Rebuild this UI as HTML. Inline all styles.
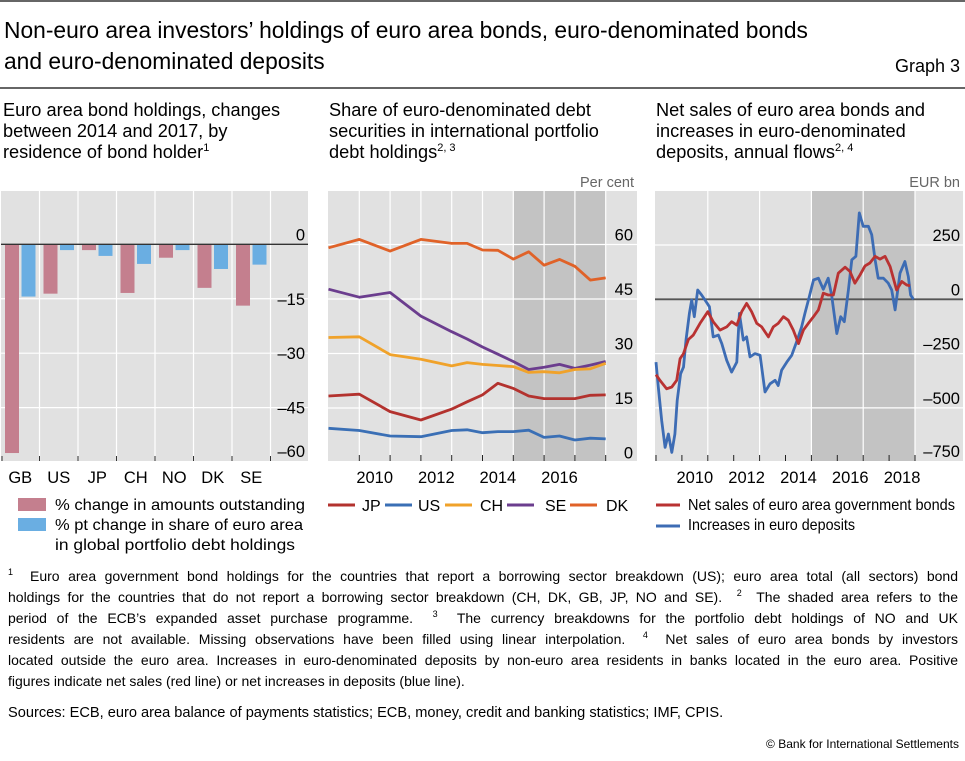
<!DOCTYPE html>
<html><head><meta charset="utf-8">
<style>
body{margin:0;background:#fff;font-family:"Liberation Sans",sans-serif;color:#000}
#root{position:relative;width:965px;height:761px;overflow:hidden}
svg text{font-family:"Liberation Sans",sans-serif}
.fn{position:absolute;left:8px;width:950px;font-size:14px;line-height:21px}
.fn div{text-align:justify;text-align-last:justify;white-space:nowrap}
.fn div.last{text-align-last:left}
.fn sup{font-size:9px;vertical-align:6px;line-height:0}
</style></head><body>
<div id="root">
<svg id="s" width="965" height="761" style="position:absolute;left:0;top:0">
<line x1="0" y1="1" x2="965" y2="1" stroke="#333" stroke-width="1.5"/>
<text x="4" y="38" font-size="22.8">Non-euro area investors’ holdings of euro area bonds, euro-denominated bonds</text>
<text x="4" y="69" font-size="22.8">and euro-denominated deposits</text>
<text x="960" y="72" font-size="18" text-anchor="end">Graph 3</text>
<line x1="0" y1="88" x2="965" y2="88" stroke="#333" stroke-width="1.5"/>
<g font-size="18.2">
<text x="3" y="116">Euro area bond holdings, changes</text>
<text x="3" y="137">between 2014 and 2017, by</text>
<text x="3" y="158">residence of bond holder<tspan font-size="11" dy="-7">1</tspan></text></g>
<g font-size="18.2">
<text x="329" y="116">Share of euro-denominated debt</text>
<text x="329" y="137">securities in international portfolio</text>
<text x="329" y="158">debt holdings<tspan font-size="11" dy="-7">2, 3</tspan></text></g>
<g font-size="18.2">
<text x="656" y="116">Net sales of euro area bonds and</text>
<text x="656" y="137">increases in euro-denominated</text>
<text x="656" y="158">deposits, annual flows<tspan font-size="11" dy="-7">2, 4</tspan></text></g>
<text x="634" y="187" font-size="14.5" fill="#666" text-anchor="end">Per cent</text>
<text x="960" y="187" font-size="14.5" fill="#666" text-anchor="end">EUR bn</text>
<g id="p1"></g><g id="p2"></g><g id="p3"></g>
<g font-size="16">
<rect x="18" y="498" width="28" height="13" fill="#c47f8e"/>
<text x="55" y="510" textLength="250" lengthAdjust="spacingAndGlyphs">% change in amounts outstanding</text>
<rect x="18" y="518" width="28" height="13" fill="#6aaee2"/>
<text x="55" y="530" textLength="248" lengthAdjust="spacingAndGlyphs">% pt change in share of euro area</text>
<text x="55" y="550" textLength="240" lengthAdjust="spacingAndGlyphs">in global portfolio debt holdings</text></g>
<g id="leg2" font-size="16"></g>
<g font-size="16">
<line x1="656" y1="505" x2="680" y2="505" stroke="#b93232" stroke-width="3"/>
<text x="688" y="510" textLength="267" lengthAdjust="spacingAndGlyphs">Net sales of euro area government bonds</text>
<line x1="656" y1="526" x2="680" y2="526" stroke="#3d6cb4" stroke-width="3"/>
<text x="688" y="530" textLength="167" lengthAdjust="spacingAndGlyphs">Increases in euro deposits</text></g>
</svg>
<div class="fn" style="top:566px">
<div><sup>1</sup>&nbsp; Euro area government bond holdings for the countries that report a borrowing sector breakdown (US); euro area total (all sectors) bond</div>
<div>holdings for the countries that do not report a borrowing sector breakdown (CH, DK, GB, JP, NO and SE).&nbsp; <sup>2</sup>&nbsp; The shaded area refers to the</div>
<div>period of the ECB’s expanded asset purchase programme.&nbsp; <sup>3</sup>&nbsp; The currency breakdowns for the portfolio debt holdings of NO and UK</div>
<div>residents are not available. Missing observations have been filled using linear interpolation.&nbsp; <sup>4</sup>&nbsp; Net sales of euro area bonds by investors</div>
<div>located outside the euro area. Increases in euro-denominated deposits by non-euro area residents in banks located in the euro area. Positive</div>
<div class="last">figures indicate net sales (red line) or net increases in deposits (blue line).</div>
</div>
<div class="fn" style="top:703px;font-size:14.6px"><div class="last">Sources: ECB, euro area balance of payments statistics; ECB, money, credit and banking statistics; IMF, CPIS.</div></div>
<div style="position:absolute;right:6px;top:737px;font-size:12px">© Bank for International Settlements</div>
</div>
<script>
// Panel 1 data
const p1Categories=["GB","US","JP","CH","NO","DK","SE"];
const p1AmountChange=[-57.5,-13.6,-1.6,-13.4,-3.7,-12,-16.9];
const p1ShareChange=[-14.4,-1.6,-3.2,-5.4,-1.6,-6.8,-5.6];
const p1Ticks=[0,-15,-30,-45,-60];
// Panel 2 data
const p2Dates=[2009,2010,2011,2012,2013,2013.5,2014,2014.5,2015,2015.5,2016,2016.5,2017,2017.5,2018];
const p2Names=["JP","US","CH","SE","DK"];
const p2JP=[18.3,18.8,14.0,11.7,14.7,16.7,18.6,21.8,20.4,18.3,17.6,17.6,17.6,18.5,18.6];
const p2US=[9.4,8.8,7.3,7.1,8.8,9.0,8.2,8.5,8.5,8.9,6.9,7.3,6.2,6.7,6.5];
const p2CH=[34.4,34.6,29.7,28.4,26.6,27.5,27.0,26.7,26.4,24.8,25.0,24.7,25.6,25.8,27.3];
const p2SE=[47.7,45.5,46.8,40.3,36.0,34.0,31.8,29.8,27.8,25.6,26.2,27.0,25.9,26.8,27.8];
const p2DK=[59.1,61.4,58.2,61.4,60.3,60.3,58.5,58.4,56.0,58.0,54.3,55.9,54.0,50.2,50.8];
const p2Ticks=[0,15,30,45,60];
const p2YearLabels=[2010,2012,2014,2016];
// Panel 3 data
const p3RedDates=[2009,2009.15,2009.41,2009.61,2009.8,2009.93,2010.06,2010.25,2010.44,2010.7,2011,2011.21,2011.47,2011.73,2011.92,2012.12,2012.31,2012.5,2012.69,2012.89,2013.08,2013.34,2013.53,2013.72,2013.92,2014.11,2014.3,2014.5,2014.69,2014.88,2015.08,2015.27,2015.46,2015.65,2015.85,2016.04,2016.3,2016.49,2016.68,2016.88,2017.07,2017.26,2017.46,2017.65,2017.84,2018.04,2018.29,2018.49,2018.68,2018.81];
const p3RedValues=[-347,-373,-412,-404,-373,-273,-250,-185,-165,-111,-57,-103,-142,-127,-103,-119,-57,-19,-57,-111,-127,-173,-127,-111,-80,-96,-142,-204,-142,-111,-80,-49,28,20,20,120,148,128,74,113,154,167,198,185,198,151,43,82,66,62];
const p3BlueDates=[2009,2009.09,2009.22,2009.35,2009.48,2009.61,2009.73,2009.82,2009.95,2010.06,2010.16,2010.29,2010.38,2010.48,2010.61,2010.76,2010.89,2011.06,2011.21,2011.41,2011.54,2011.73,2011.92,2012.12,2012.22,2012.37,2012.5,2012.63,2012.82,2013.02,2013.21,2013.4,2013.6,2013.72,2013.85,2014.05,2014.24,2014.43,2014.62,2014.75,2014.92,2015.08,2015.27,2015.46,2015.65,2015.78,2015.98,2016.13,2016.27,2016.43,2016.56,2016.72,2016.85,2017,2017.2,2017.33,2017.46,2017.58,2017.78,2017.97,2018.1,2018.23,2018.42,2018.61,2018.74,2018.83,2018.94];
const p3BlueValues=[-289,-404,-559,-682,-620,-705,-620,-466,-343,-312,-188,-65,-3,-80,43,20,-3,-34,-173,-165,-204,-281,-335,-289,-65,-188,-173,-265,-250,-258,-427,-389,-373,-397,-327,-289,-258,-196,-127,-65,12,89,97,46,97,20,-158,-80,-103,43,182,198,398,336,336,298,182,97,97,74,43,-49,120,174,105,20,0];
const p3Ticks=[250,0,-250,-500,-750];
const p3YearLabels=[2010,2012,2014,2016,2018];

const NS="http://www.w3.org/2000/svg";
function mk(parent,tag,attrs,text){const e=document.createElementNS(NS,tag);for(const k in attrs)e.setAttribute(k,attrs[k]);if(text!==undefined)e.textContent=text;parent.appendChild(e);return e;}

// ---- Panel 1
(function(){
const g=document.getElementById('p1');
const L=1,R=308,T=191,B=461,slot=38.5;
const y=v=>244.3-v*3.63;
const bg=mk(g,'rect',{x:L,y:T,width:R-L,height:B-T,fill:'#e1e1e1'});


for(let k=1;k<=p1Categories.length;k++){mk(g,'line',{x1:L+slot*k,y1:T,x2:L+slot*k,y2:B,stroke:'#fff','stroke-width':1.2});}
p1Ticks.forEach(v=>{
 if(v!==0&&v!==-60)mk(g,'line',{x1:L,y1:y(v),x2:R,y2:y(v),stroke:'#fff','stroke-width':1.2});
 const t=mk(g,'text',{x:305,y:(v===0?y(v)-4:Math.min(y(v)+6,457)),'font-size':16.5,'text-anchor':'end'},v===0?'0':'–'+Math.abs(v));
 
 
});
p1Categories.forEach((c,i)=>{
 const x0=L+slot*i;
 const a=p1AmountChange[i],b=p1ShareChange[i];
 const r1=mk(g,'rect',{x:x0+4,y:y(0),width:14,height:y(a)-y(0),fill:'#c47f8e'});
 
 
 const r2=mk(g,'rect',{x:x0+20.5,y:y(0),width:14,height:y(b)-y(0),fill:'#6aaee2'});
 
 
 const t=mk(g,'text',{x:x0+slot/2,y:483,'font-size':16.5,'text-anchor':'middle'},c);
 
 
});
for(let k=0;k<=p1Categories.length;k++){mk(g,'line',{x1:L+slot*k+(k==0?1:0),y1:B-5,x2:L+slot*k+(k==0?1:0),y2:B,stroke:'#333','stroke-width':1});}
mk(g,'line',{x1:L,y1:y(0),x2:R,y2:y(0),stroke:'#333','stroke-width':1.3});
})();

// ---- Panel 2
(function(){
const g=document.getElementById('p2');
const L=328,R=637,T=191,B=461;
const x=t=>328.5+(t-2009)*30.8, y=v=>462.5-v*3.633;
const bg=mk(g,'rect',{x:L,y:T,width:R-L,height:B-T,fill:'#e1e1e1'});


const sh=mk(g,'rect',{x:x(2015),y:T,width:x(2018)-x(2015),height:B-T,fill:'#c3c3c3'});


for(let yr=2010;yr<=2018;yr++){mk(g,'line',{x1:x(yr),y1:T,x2:x(yr),y2:B,stroke:'#fff','stroke-width':1.2});}
p2Ticks.forEach(v=>{
 if(v>0)mk(g,'line',{x1:L,y1:y(v),x2:R,y2:y(v),stroke:'#fff','stroke-width':1.2});
 const t=mk(g,'text',{x:633,y:y(v)-4,'font-size':16.5,'text-anchor':'end'},String(v));
 
 
});
for(let yr=2010;yr<=2018;yr++){mk(g,'line',{x1:x(yr),y1:B-6,x2:x(yr),y2:B,stroke:'#222','stroke-width':1});}
p2YearLabels.forEach(yr=>{const t=mk(g,'text',{x:x(yr+0.5),y:483,'font-size':16.5,'text-anchor':'middle'},String(yr));
 
 });
const series=[p2JP,p2US,p2CH,p2SE,p2DK];
const cols=['#b3322e','#3a6fb5','#f0a22a','#6b3d8e','#e06228'];
[4,3,2,0,1].forEach(i=>{
 const d=series[i].map((v,j)=>(j?'L':'M')+x(p2Dates[j]).toFixed(1)+','+y(v).toFixed(1)).join('');
 const p=mk(g,'path',{d:d,fill:'none',stroke:cols[i],'stroke-width':2.8,'stroke-linejoin':'round'});
 
 
});
const lg=document.getElementById('leg2');
const lx=[328,385,445,507,570];
const tx=[362,418,480,545,606];
p2Names.forEach((n,i)=>{
 mk(lg,'line',{x1:lx[i],y1:505,x2:lx[i]+27,y2:505,stroke:cols[i],'stroke-width':3});
 const t=mk(lg,'text',{x:tx[i],y:511},n);
 
 
});
})();

// ---- Panel 3
(function(){
const g=document.getElementById('p3');
const L=655,R=963,T=191,B=461;
const x=t=>656+(t-2009)*25.9, y=v=>299.3-v*0.2172;
const bg=mk(g,'rect',{x:L,y:T,width:R-L,height:B-T,fill:'#e1e1e1'});


const sh=mk(g,'rect',{x:x(2015),y:T,width:x(2019)-x(2015),height:B-T,fill:'#c3c3c3'});


[2011,2013,2015,2017,2019].forEach(yr=>mk(g,'line',{x1:x(yr),y1:T,x2:x(yr),y2:B,stroke:'#fff','stroke-width':1.2}));
p3Ticks.forEach(v=>{
 if(v!==0&&v!==-750)mk(g,'line',{x1:L,y1:y(v),x2:R,y2:y(v),stroke:'#fff','stroke-width':1.2});
 const t=mk(g,'text',{x:960,y:v===-750?457:y(v)-4,'font-size':16.5,'text-anchor':'end'},v<0?'–'+Math.abs(v):String(v));
 
 
});
for(let yr=2009;yr<=2019;yr++){mk(g,'line',{x1:x(yr),y1:B-6,x2:x(yr),y2:B,stroke:'#222','stroke-width':1});}
p3YearLabels.forEach(yr=>{const t=mk(g,'text',{x:x(yr+0.5),y:483,'font-size':16.5,'text-anchor':'middle'},String(yr));
 
 });
mk(g,'line',{x1:L,y1:y(0),x2:R,y2:y(0),stroke:'#555','stroke-width':1.8});
const b=p3BlueValues.map((v,j)=>(j?'L':'M')+x(p3BlueDates[j]).toFixed(1)+','+y(v).toFixed(1)).join('');
const pb=mk(g,'path',{d:b,fill:'none',stroke:'#3d6cb4','stroke-width':2.8,'stroke-linejoin':'round'});


const r=p3RedValues.map((v,j)=>(j?'L':'M')+x(p3RedDates[j]).toFixed(1)+','+y(v).toFixed(1)).join('');
const pr=mk(g,'path',{d:r,fill:'none',stroke:'#b93232','stroke-width':2.8,'stroke-linejoin':'round'});


})();
</script>
</body></html>
